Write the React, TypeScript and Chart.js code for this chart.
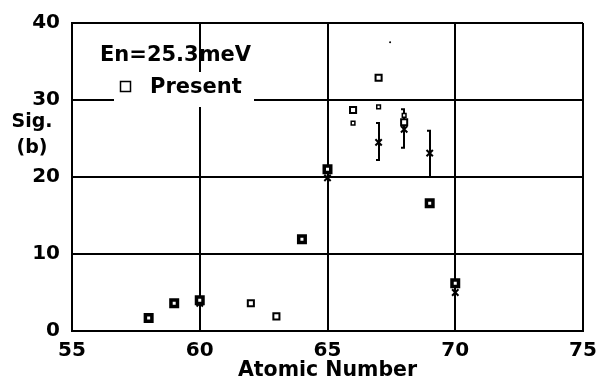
import React, { useEffect, useRef } from "react";
import { Chart, registerables } from "chart.js";

Chart.register(...registerables);

// Axis ranges / ticks
const xTicks = [55, 60, 65, 70, 75];
const yTicks = [0, 10, 20, 30, 40];

// "Present" data (open squares)
const presentZ = [62, 63, 66, 67, 68];
const presentSig = [3.6, 1.9, 28.7, 32.9, 27.1];

// Other measured data (heavy squares)
const measuredZ = [58, 59, 60, 64, 65, 69, 70];
const measuredSig = [1.7, 3.6, 4.0, 11.9, 21.0, 16.6, 6.2];

// Small squares
const smallZ = [66, 67, 68];
const smallSig = [27.0, 29.1, 28.0];

// Crosses with error bars
const crossZ = [60, 65, 67, 68, 69, 70];
const crossSig = [3.6, 19.9, 24.5, 26.2, 23.1, 5.0];
const crossLow = [3.6, 19.9, 22.2, 23.8, 20.0, 5.0];
const crossHigh = [3.6, 19.9, 27.0, 28.8, 26.0, 5.0];

// Lone dot
const dotZ = [67.45];
const dotSig = [37.5];

const energyLabel = "En=25.3meV";
const legendLabel = "Present";
const yTitleLines = ["Sig.", "(b)"];
const xTitle = "Atomic Number";

const FONT = "DejaVu Sans";

const pts = (xs: number[], ys: number[]) => xs.map((x, i) => ({ x, y: ys[i] }));

const errorBarPlugin = {
  id: "errorBars",
  beforeDatasetsDraw(chart: any) {
    const { ctx, scales } = chart;
    const xs = scales.x;
    const ys = scales.y;
    ctx.save();
    ctx.strokeStyle = "#000";
    ctx.lineWidth = 2;
    crossZ.forEach((z, i) => {
      if (crossHigh[i] === crossLow[i]) return;
      const px = Math.round(xs.getPixelForValue(z));
      const yl = ys.getPixelForValue(crossLow[i]);
      const yh = ys.getPixelForValue(crossHigh[i]);
      ctx.beginPath();
      ctx.moveTo(px, yl);
      ctx.lineTo(px, yh);
      ctx.moveTo(px - 3, yl);
      ctx.lineTo(px + 1, yl);
      ctx.moveTo(px - 3, yh);
      ctx.lineTo(px + 1, yh);
      ctx.stroke();
    });
    ctx.restore();
  },
};

const annotationPlugin = {
  id: "annotations",
  afterDatasetsDraw(chart: any) {
    const { ctx } = chart;
    ctx.save();
    // Energy label
    ctx.fillStyle = "#000";
    ctx.font = `bold 21px "${FONT}"`;
    ctx.textBaseline = "middle";
    ctx.textAlign = "left";
    ctx.fillText(energyLabel, 100, 56);
    // Legend box with white background
    ctx.fillStyle = "#fff";
    ctx.fillRect(114, 72, 140, 35);
    ctx.strokeStyle = "#000";
    ctx.lineWidth = 1.5;
    ctx.strokeRect(120.5, 81.5, 10, 10);
    ctx.fillStyle = "#000";
    ctx.fillText(legendLabel, 150, 88);
    // Y axis title
    ctx.font = `bold 19px "${FONT}"`;
    ctx.textAlign = "center";
    ctx.fillText(yTitleLines[0], 32, 122);
    ctx.fillText(yTitleLines[1], 32, 148);
    ctx.restore();
  },
};

export default function App() {
  const ref = useRef<HTMLCanvasElement | null>(null);

  useEffect(() => {
    document.body.style.margin = "0";
    const canvas = ref.current;
    if (!canvas) return;
    const chart = new Chart(canvas, {
      type: "scatter",
      data: {
        datasets: [
          {
            label: "Present",
            data: pts(presentZ, presentSig),
            pointStyle: "rect",
            radius: 4.3,
            borderWidth: 2,
            borderColor: "#000",
            backgroundColor: "#fff",
          },
          {
            label: "Measured",
            data: pts(measuredZ, measuredSig),
            pointStyle: "rect",
            radius: 4.6,
            borderWidth: 3.5,
            borderColor: "#000",
            backgroundColor: "#fff",
          },
          {
            label: "Small",
            data: pts(smallZ, smallSig),
            pointStyle: "rect",
            radius: 2.6,
            borderWidth: 1.5,
            borderColor: "#000",
            backgroundColor: "#fff",
          },
          {
            label: "Cross",
            data: pts(crossZ, crossSig),
            pointStyle: "crossRot",
            radius: 4.5,
            borderWidth: 2,
            borderColor: "#000",
            backgroundColor: "#000",
          },
          {
            label: "Dot",
            data: pts(dotZ, dotSig),
            pointStyle: "circle",
            radius: 1,
            borderWidth: 0,
            backgroundColor: "#000",
          },
        ],
      },
      options: {
        animation: false,
        responsive: false,
        events: [],
        layout: { padding: { top: 23, right: 14, left: 0, bottom: 0 } },
        plugins: {
          legend: { display: false },
          tooltip: { enabled: false },
        },
        scales: {
          x: {
            type: "linear",
            min: xTicks[0],
            max: xTicks[xTicks.length - 1],
            afterBuildTicks: (scale: any) => {
              scale.ticks = xTicks.map((v) => ({ value: v }));
            },
            afterFit: (scale: any) => {
              scale.height = 49;
              scale.paddingLeft = 0;
              scale.paddingRight = 0;
            },
            grid: { color: "#000", lineWidth: 2, drawTicks: false },
            border: { display: true, color: "#000", width: 2 },
            ticks: {
              color: "#000",
              padding: 8,
              maxRotation: 0,
              font: { family: FONT, size: 20, weight: "bold" },
            },
            title: {
              display: true,
              text: xTitle,
              color: "#000",
              padding: { top: 0, bottom: 0 },
              font: { family: FONT, size: 20.5, weight: "bold", lineHeight: 0.9 },
            },
          },
          y: {
            type: "linear",
            min: yTicks[0],
            max: yTicks[yTicks.length - 1],
            afterBuildTicks: (scale: any) => {
              scale.ticks = yTicks.map((v) => ({ value: v }));
            },
            afterFit: (scale: any) => {
              scale.width = 72;
              scale.paddingTop = 0;
              scale.paddingBottom = 0;
            },
            grid: { color: "#000", lineWidth: 2, drawTicks: false },
            border: { display: true, color: "#000", width: 2 },
            ticks: {
              color: "#000",
              padding: 12,
              font: { family: FONT, size: 20, weight: "bold" },
            },
          },
        },
      },
      plugins: [errorBarPlugin, annotationPlugin],
    } as any);
    return () => chart.destroy();
  }, []);

  return (
    <div style={{ width: 597, height: 380 }}>
      <canvas ref={ref} width={597} height={380} />
    </div>
  );
}
